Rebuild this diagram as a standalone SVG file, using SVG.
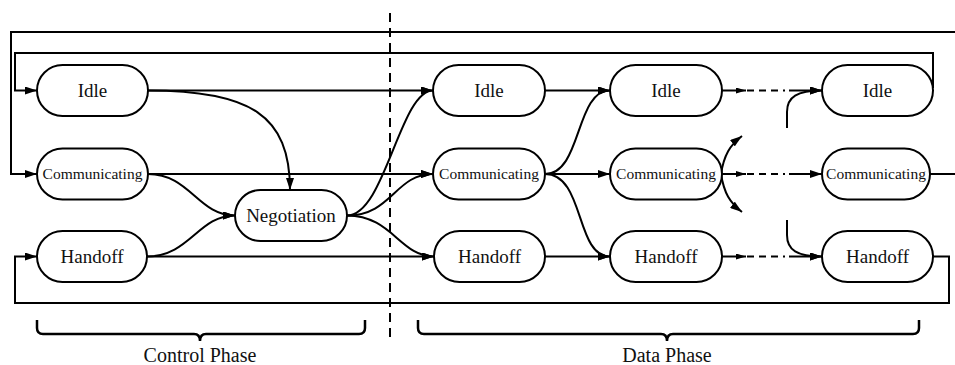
<svg xmlns="http://www.w3.org/2000/svg" width="955" height="365" viewBox="0 0 955 365">
  <style>
    .node rect { fill: #fff; stroke: #000; stroke-width: 2; }
    .node text { font-family: "Liberation Serif", "Times New Roman", serif; font-size: 19px; text-anchor: middle; fill: #111; }
    .node text.small { font-size: 15.5px; }
    .edge { fill: none; stroke: #000; stroke-width: 2; }
    .arr { marker-end: url(#ah); }
    .sarr { marker-end: url(#ahs); }
    .dash { fill: none; stroke: #000; stroke-width: 2; stroke-dasharray: 7 5 7 5 7 5 2 4; }
    .brace { fill: none; stroke: #000; stroke-width: 2.5; }
    .phase { font-family: "Liberation Serif", "Times New Roman", serif; font-size: 20px; text-anchor: middle; fill: #111; }
  </style>
  <defs>
    <marker id="ah" viewBox="0 0 12 8" refX="12" refY="4" markerWidth="12" markerHeight="8" markerUnits="userSpaceOnUse" orient="auto">
      <path d="M0,0 L12,4 L0,8 z" fill="#000"/>
    </marker>
    <marker id="ahs" viewBox="0 0 10 6" refX="10" refY="3" markerWidth="10" markerHeight="6" markerUnits="userSpaceOnUse" orient="auto">
      <path d="M0,0 L10,3 L0,6 z" fill="#000"/>
    </marker>
  </defs>
  <rect width="955" height="365" fill="#fff"/>

  <!-- phase divider -->
  <line x1="390" y1="13" x2="390" y2="338" stroke="#000" stroke-width="2" stroke-dasharray="9 6"/>

  <g id="connectors">
    <!-- feedback loops -->
    <path class="edge arr" d="M930,174 H958 V32 H11 V174 H37"/>
    <path class="edge arr" d="M933,88 V53 H15 V90.5 H37"/>
    <path class="edge arr" d="M933,256.5 H949 V303 H15 V256.5 H37"/>

    <!-- control phase -->
    <path class="edge arr" d="M148,90.5 H433"/>
    <path class="edge arr" d="M148,90.5 C250,90.5 290,115 290,190"/>
    <path class="edge arr" d="M148,174 H433"/>
    <path class="edge arr" d="M148,174 C190,174 198,215.5 235,215.5"/>
    <path class="edge arr" d="M147,256.5 H434"/>
    <path class="edge arr" d="M147,256.5 C190,256.5 198,215.5 235,215.5"/>

    <!-- negotiation fan-out -->
    <path class="edge arr" d="M347,215.5 C385,215.5 400,90.5 433,90.5"/>
    <path class="edge arr" d="M347,215.5 C392,215.5 395,174 433,174"/>
    <path class="edge arr" d="M347,215.5 C392,215.5 400,256.5 434,256.5"/>

    <!-- data phase, column 2 to column 3 -->
    <path class="edge arr" d="M545,90.5 H610"/>
    <path class="edge arr" d="M545,174 H610"/>
    <path class="edge arr" d="M545,174 C582,174 575,90.5 610,90.5"/>
    <path class="edge arr" d="M545,174 C585,174 575,256.5 610,256.5"/>
    <path class="edge arr" d="M545,256.5 H610"/>

    <!-- column 3 to column 4 (elided steps) -->
    <path class="edge sarr" d="M722,90.5 H746"/>
    <path class="dash" d="M747,90.5 H790"/>
    <path class="edge arr" d="M790,90.5 H822"/>
    <path class="edge sarr" d="M722,174 H746"/>
    <path class="dash" d="M747,174 H790"/>
    <path class="edge arr" d="M790,174 H822"/>
    <path class="edge sarr" d="M722,256.5 H746"/>
    <path class="dash" d="M747,256.5 H790"/>
    <path class="edge arr" d="M790,256.5 H822"/>

    <!-- branch stubs -->
    <path class="edge arr" d="M721,174 C724,155 730,145 742,136"/>
    <path class="edge arr" d="M721,174 C724,193 730,203 742,212"/>
    <path class="edge arr" d="M787,128 V112 C787,97 797,90.5 822,90.5"/>
    <path class="edge arr" d="M787,220 V235 C787,250 797,256.5 822,256.5"/>
  </g>

  <!-- control phase nodes -->
  <g id="idle-c" class="node"><rect x="37" y="65" width="111" height="51" rx="25.5"/><text x="92.5" y="97">Idle</text></g>
  <g id="comm-c" class="node"><rect x="37" y="148.5" width="111" height="51" rx="25.5"/><text class="small" x="92.5" y="179">Communicating</text></g>
  <g id="handoff-c" class="node"><rect x="37" y="231" width="110" height="51" rx="25.5"/><text x="92" y="263">Handoff</text></g>
  <g id="negotiation" class="node"><rect x="235" y="190" width="112" height="51" rx="25.5"/><text x="291" y="222">Negotiation</text></g>

  <!-- data phase nodes, column 2 -->
  <g id="idle-d1" class="node"><rect x="433" y="65" width="112" height="51" rx="25.5"/><text x="489" y="97">Idle</text></g>
  <g id="comm-d1" class="node"><rect x="433" y="148.5" width="112" height="51" rx="25.5"/><text class="small" x="489" y="179">Communicating</text></g>
  <g id="handoff-d1" class="node"><rect x="434" y="231" width="111" height="51" rx="25.5"/><text x="489.5" y="263">Handoff</text></g>

  <!-- column 3 -->
  <g id="idle-d2" class="node"><rect x="610" y="65" width="112" height="51" rx="25.5"/><text x="666" y="97">Idle</text></g>
  <g id="comm-d2" class="node"><rect x="610" y="148.5" width="112" height="51" rx="25.5"/><text class="small" x="666" y="179">Communicating</text></g>
  <g id="handoff-d2" class="node"><rect x="610" y="231" width="112" height="51" rx="25.5"/><text x="666" y="263">Handoff</text></g>

  <!-- column 4 -->
  <g id="idle-d3" class="node"><rect x="822" y="65" width="111" height="51" rx="25.5"/><text x="877.5" y="97">Idle</text></g>
  <g id="comm-d3" class="node"><rect x="822" y="148.5" width="108" height="51" rx="25.5"/><text class="small" x="876" y="179">Communicating</text></g>
  <g id="handoff-d3" class="node"><rect x="822" y="231" width="111" height="51" rx="25.5"/><text x="877.5" y="263">Handoff</text></g>

  <!-- phase braces -->
  <g id="control-phase">
    <path class="brace" d="M37,320 V328 Q37,334 43,334 H194 Q200,334 200,341 Q200,334 206,334 H359 Q365,334 365,328 V320"/>
    <text class="phase" x="200" y="362">Control Phase</text>
  </g>
  <g id="data-phase">
    <path class="brace" d="M418,320 V328 Q418,334 424,334 H661 Q667,334 667,341 Q667,334 673,334 H913 Q919,334 919,328 V320"/>
    <text class="phase" x="667" y="362">Data Phase</text>
  </g>
</svg>
